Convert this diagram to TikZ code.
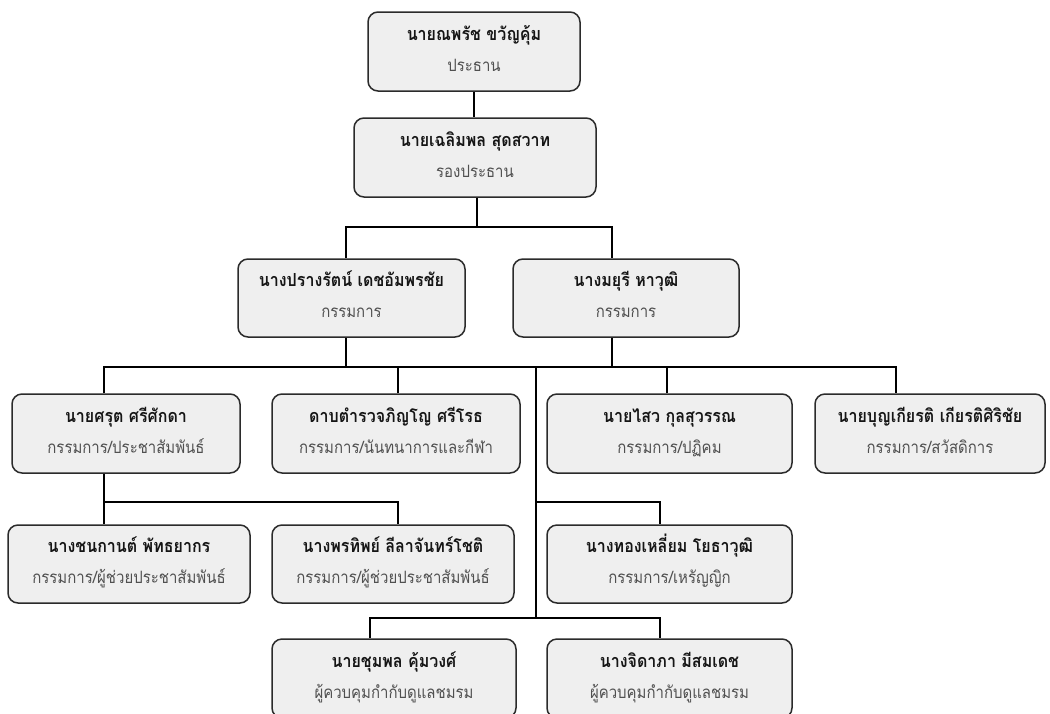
\documentclass[tikz,border=0pt]{standalone}
\usepackage{fontspec}
\newfontfamily\thainame[Script=Thai,FakeStretch=0.89]{Loma}
\newfontfamily\thairole[Script=Thai,FakeStretch=0.88]{Loma}
\definecolor{boxfill}{HTML}{EFEFEF}
\definecolor{boxline}{HTML}{2B2B2B}
\definecolor{roletext}{HTML}{505050}
\definecolor{nametext}{HTML}{151515}
\tikzset{
  orgbox/.style={draw=boxline, fill=boxfill, line width=1.5pt, rounded corners=10pt, inner sep=0pt},
  nametxt/.style={anchor=base, inner sep=0pt, font=\thainame\bfseries\fontsize{18}{20}\selectfont, text=nametext},
  roletxt/.style={anchor=base, inner sep=0pt, font=\thairole\fontsize{17}{20}\selectfont, text=roletext},
  link/.style={draw=black, line width=1.6pt}
}
% #1 node name, #2 x1, #3 y1, #4 x2, #5 y2, #6 person, #7 role
\newcommand\orgunit[7]{%
  \node[orgbox, minimum width={(#4-#2)*1pt}, minimum height={(#5-#3)*1pt}] (#1) at ({(#2+#4)/2},{(#3+#5)/2}) {};
  \node[nametxt] (#1n) at ([yshift=11.3pt]#1.center) {#6};
  \node[roletxt] (#1r) at ([yshift=-19.5pt]#1.center) {#7};
}
\begin{document}
\begin{tikzpicture}[x=1pt,y=-1pt]
\useasboundingbox (0,0) rectangle (1050,713);
\clip (0,0) rectangle (1050,713);
\coordinate (j1) at (477,227);
\coordinate (j2) at (536,367);
\coordinate (j3) at (104,502);
\coordinate (j4) at (536,502);
\coordinate (j5) at (536,618);
% boxes
\orgunit{b1}{368}{12}{580}{91}{นายณพรัช ขวัญคุ้ม}{ประธาน}
\orgunit{b2}{354}{118}{596}{197}{นายเฉลิมพล สุดสวาท}{รองประธาน}
\orgunit{b3}{238}{259}{465}{337}{นางปรางรัตน์ เดชอัมพรชัย}{กรรมการ}
\orgunit{b4}{513}{259}{739}{337}{นางมยุรี หาวุฒิ}{กรรมการ}
\orgunit{ba}{12}{394}{240}{473}{นายศรุต ศรีศักดา}{กรรมการ/ประชาสัมพันธ์}
\orgunit{bb}{272}{394}{520}{473}{ดาบตำรวจภิญโญ ศรีโรธ}{กรรมการ/นันทนาการและกีฬา}
\orgunit{bc}{547}{394}{792}{473}{นายไสว กุลสุวรรณ}{กรรมการ/ปฏิคม}
\orgunit{bd}{815}{394}{1045}{473}{นายบุญเกียรติ เกียรติศิริชัย}{กรรมการ/สวัสดิการ}
\orgunit{be}{8}{525}{250}{603}{นางชนกานต์ พัทธยากร}{กรรมการ/ผู้ช่วยประชาสัมพันธ์}
\orgunit{bf}{272}{525}{514}{603}{นางพรทิพย์ ลีลาจันทร์โชติ}{กรรมการ/ผู้ช่วยประชาสัมพันธ์}
\orgunit{bg}{547}{525}{792}{603}{นางทองเหลี่ยม โยธาวุฒิ}{กรรมการ/เหรัญญิก}
\orgunit{bh}{272}{639}{516}{718}{นายชุมพล คุ้มวงศ์}{ผู้ควบคุมกำกับดูแลชมรม}
\orgunit{bi}{547}{639}{792}{718}{นางจิดาภา มีสมเดช}{ผู้ควบคุมกำกับดูแลชมรม}
% connectors
\draw[link] (b1.south) -- (b1.south |- b2.north);
\draw[link] (b2.south -| j1) -- (j1);
\draw[link] ([xshift=-5.5pt]b3.north) |- (j1) -| ([xshift=-14pt]b4.north);
\draw[link] ([xshift=-5.5pt]b3.south) -- ([xshift=-5.5pt]b3.south |- j2);
\draw[link] ([xshift=-14pt]b4.south) -- ([xshift=-14pt]b4.south |- j2);
\draw[link] ([xshift=-22pt]ba.north) |- (j2) -| ([xshift=-34pt]bd.north);
\draw[link] ([xshift=2pt]bb.north) -- ([xshift=2pt]bb.north |- j2);
\draw[link] ([xshift=-2.5pt]bc.north) -- ([xshift=-2.5pt]bc.north |- j2);
\draw[link] (j2) -- (j5);
\draw[link] ([xshift=-22pt]ba.south) -- (j3);
\draw[link] ([xshift=-25pt]be.north) |- (j3) -| ([xshift=5pt]bf.north);
\draw[link] (j4) -| ([xshift=-9.5pt]bg.north);
\draw[link] ([xshift=-24pt]bh.north) |- (j5) -| ([xshift=-9.5pt]bi.north);
\end{tikzpicture}
\end{document}
